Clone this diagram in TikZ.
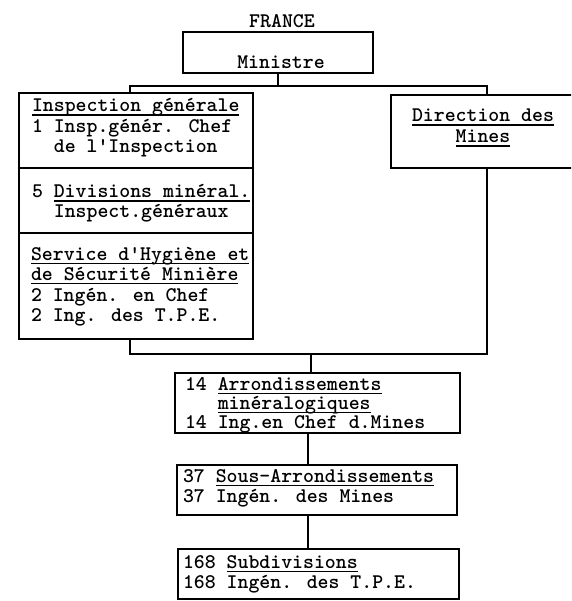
\documentclass[tikz,border=0pt]{standalone}
\newcommand\twfont{\fontsize{20.8}{20}\selectfont\ttfamily\bfseries}
\newcommand\myul[1]{\leavevmode\vtop{\hbox{\smash{#1}}\kern2.5pt\hrule height 1.6pt}}
\begin{document}
\begin{tikzpicture}[x=1pt,y=-1pt,
  box/.style={draw, line width=1.6pt, rectangle, inner sep=0pt, outer sep=0pt},
  conn/.style={draw, line width=1.6pt},
  txt/.style={font=\twfont, anchor=base west, inner sep=0pt, outer sep=0pt},
  ctxt/.style={font=\twfont, anchor=base, inner sep=0pt, outer sep=0pt}]
\useasboundingbox (0,0) rectangle (571,601);
\clip (0,0) rectangle (571,601);
% boxes
\node[box, minimum width=190, minimum height=41] (min) at (278,52.5) {};
\node[box, minimum width=234, minimum height=246] (left) at (136,216) {};
\node[box, minimum width=184, minimum height=73] (dir) at (483,131.5) {};
\node[box, minimum width=285, minimum height=60] (arr) at (317.5,403) {};
\node[box, minimum width=280, minimum height=50] (sous) at (317,490) {};
\node[box, minimum width=281, minimum height=50] (sub) at (318.5,574) {};
% dividers in left box
\draw[conn] (left.west |- 0,168) -- (left.east |- 0,168);
\draw[conn] (left.west |- 0,233) -- (left.east |- 0,233);
% connectors
\coordinate (busL) at (130,86);
\coordinate (busR) at (487,86);
\coordinate (bL) at (130,354);
\coordinate (bR) at (487,354);
\coordinate (bM) at (311,354);
\coordinate (vx) at (308,450);
\draw[conn] (min.south) -- (min.south |- busL);
\draw[conn] (busL |- left.north) -- (busL) -- (busR) -- (busR |- dir.north);
\draw[conn] (bL |- left.south) -- (bL) -- (bR) -- (bR |- dir.south);
\draw[conn] (bM) -- (bM |- arr.north);
\draw[conn] (vx |- arr.south) -- (vx |- sous.north);
\draw[conn] (vx |- sous.south) -- (vx |- sub.north);
% texts
\node[ctxt] (france) at (282,28) {FRANCE};
\node[ctxt] (ministre) at (281,69) {Ministre};

\node[txt] (l1) at (32,112) {\myul{Inspection générale}};
\node[txt] (l2) at (32,133) {1 Insp.génér. Chef};
\node[txt] (l3) at (32,153) {\hphantom{1 }de l'Inspection};
\node[txt] (l4) at (32,198) {5 \myul{Divisions minéral.}};
\node[txt] (l5) at (32,218) {\hphantom{5 }Inspect.généraux};
\node[txt] (l6) at (31,260) {\myul{Service d'Hygiène et}};
\node[txt] (l7) at (31,280) {\myul{de Sécurité Minière}};
\node[txt] (l8) at (31,301) {2 Ingén. en Chef};
\node[txt] (l9) at (31,321) {2 Ing. des T.P.E.};

\node[ctxt] (d1) at (483,122) {\myul{Direction des}};
\node[ctxt] (d2) at (483,143) {\myul{Mines}};

\node[txt] (a1) at (185,390) {14 \myul{Arrondissements}};
\node[txt] (a2) at (185,409) {\hphantom{14 }\myul{minéralogiques}};
\node[txt] (a3) at (185,428) {14 Ing.en Chef d.Mines};

\node[txt] (s1) at (183,482) {37 \myul{Sous-Arrondissements}};
\node[txt] (s2) at (183,502) {37 Ingén. des Mines};

\node[txt] (u1) at (183,568) {168 \myul{Subdivisions}};
\node[txt] (u2) at (183,588) {168 Ingén. des T.P.E.};
\end{tikzpicture}
\end{document}
